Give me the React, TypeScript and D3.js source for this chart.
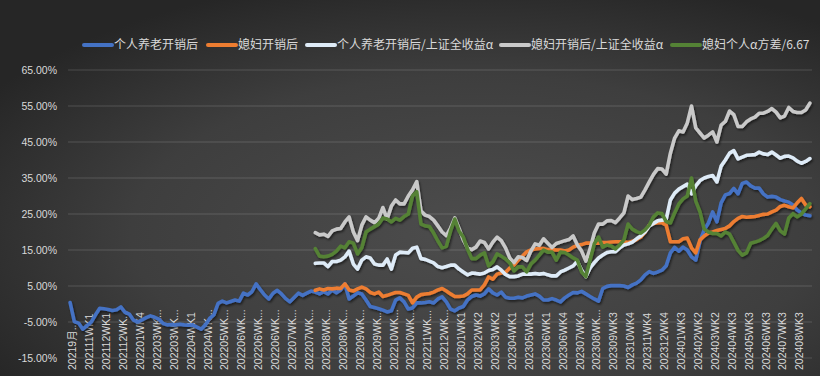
import React from 'react';
import * as d3 from 'd3';

// ---- data ----
const NUM_WEEKS = 176;
const LABEL_STEP = 4;
const SERIES_START = 58; // index where the four later series begin

const tickLabels = [
  '20219月...', '202111WK1', '202112WK1', '202112WK...', '202201WK4', '202203WK...',
  '202203WK...', '202204WK1', '202204WK...', '202205WK...', '202206WK...', '202206WK...',
  '202206WK...', '202207WK...', '202207WK...', '202208WK...', '202208WK...', '202209WK...',
  '202209WK...', '202210WK...', '202210WK...', '202211WK...', '202212WK...', '202301WK1',
  '202302WK2', '202303WK2', '202304WK1', '202305WK1', '202306WK1', '202306WK4',
  '202307WK4', '202308WK...', '202309WK3', '202310WK4', '202311WK4', '202312WK4',
  '202401WK3', '202402WK2', '202403WK2', '202404WK3', '202405WK3', '202406WK3',
  '202407WK3', '202408WK3',
];

const yTicks = [-15, -5, 5, 15, 25, 35, 45, 55, 65];

const pensionNet = [
  0.4, -4.9, -5.3, -7.0, -6.0, -5.0, -3.0, -1.2, -1.3, -1.5,
  -1.8, -1.6, -0.8, -2.3, -2.8, -4.5, -5.0, -4.4, -3.8, -3.3,
  -3.7, -4.2, -5.4, -5.8, -5.7, -5.8, -5.6, -5.8, -5.9, -5.8,
  -6.4, -7.0, -5.8, -4.0, -3.0, 0.2, 0.8, 0.3, 0.7, 1.1,
  0.8, 3.0, 2.5, 3.4, 5.6, 4.0, 2.5, 1.4, 3.0, 3.8,
  2.8, 1.5, 0.6, 1.8, 3.0, 2.4, 3.0, 3.6, 3.3, 2.8,
  3.4, 2.8, 3.9, 3.1, 3.9, 5.6, 1.4, 2.2, 3.1, 2.8,
  1.1, -0.7, -1.0, -1.3, -1.7, -2.2, -1.9, 1.1, 1.7, 0.6,
  -1.4, -1.1, 0.3, 0.3, 0.4, 0.6, 0.3, 1.4, 2.0, 0.6,
  -1.4, -1.9, -1.1, -0.7, 1.1, 2.1, 2.5, 2.2, 2.8, 4.2,
  3.1, 2.5, 3.3, 1.9, 1.6, 1.6, 1.9, 1.7, 2.2, 2.5,
  2.8, 2.2, 1.1, 1.1, 1.5, 1.1, 0.6, 1.7, 2.5, 3.2,
  3.1, 3.5, 2.8, 2.1, 1.4, 0.8, 4.3, 4.9, 5.1, 5.1,
  5.1, 5.0, 4.6, 5.3, 5.8, 6.7, 8.1, 9.0, 8.5, 8.9,
  9.4, 10.6, 14.2, 15.7, 14.7, 15.8, 15.0, 13.1, 12.2, 17.5,
  20.6, 22.5, 25.6, 22.8, 28.1, 30.3, 30.7, 32.1, 30.6, 33.5,
  33.9, 32.8, 32.2, 32.2, 30.6, 29.7, 29.9, 29.7, 29.0, 28.6,
  28.3, 27.5, 26.1, 25.3, 24.7, 24.5,
];

const wifeNet = [
  3.8, 4.2,
  3.9, 4.3, 4.2, 4.4, 4.3, 5.6, 3.9, 3.6, 4.2, 4.7,
  4.2, 3.2, 2.8, 3.3, 2.1, 2.4, 2.8, 3.2, 3.2, 2.8,
  2.4, 0.3, 1.9, 2.6, 2.8, 2.9, 3.3, 3.9, 4.3, 3.6,
  2.8, 2.1, 2.1, 2.2, 2.8, 3.9, 3.9, 3.9, 5.3, 7.5,
  6.9, 8.3, 8.6, 8.8, 10.0, 10.8, 12.2, 13.3, 14.5, 15.0,
  15.3, 15.4, 15.4, 15.1, 15.1, 15.0, 15.0, 14.7, 15.0, 15.8,
  16.3, 16.5, 16.9, 16.9, 16.9, 16.9, 17.1, 17.1, 17.2, 17.3,
  17.3, 17.3, 17.1, 17.4, 17.9, 18.6, 20.0, 21.9, 22.4, 22.6,
  22.6, 21.9, 17.3, 17.3, 17.3, 18.1, 18.3, 15.6, 14.2, 17.8,
  18.9, 19.7, 20.0, 20.4, 20.7, 21.0, 21.7, 22.9, 23.8, 24.3,
  24.1, 24.2, 24.3, 24.6, 24.9, 25.0, 25.6, 26.1, 27.1, 27.4,
  27.0, 26.7, 28.1, 29.3, 27.5, 27.0,
];

const pensionAlpha = [
  11.3, 11.4,
  11.4, 10.4, 11.8, 11.8, 12.2, 13.1, 14.7, 11.1, 9.7, 12.2,
  13.1, 12.8, 11.1, 10.8, 10.8, 12.5, 9.7, 13.6, 14.4, 14.3,
  14.2, 15.5, 15.8, 12.6, 12.4, 11.9, 11.4, 10.4, 10.1, 10.4,
  10.8, 10.8, 9.7, 8.9, 8.1, 8.6, 8.5, 8.3, 8.6, 9.3,
  9.6, 10.3, 9.4, 8.2, 7.6, 7.6, 7.8, 8.3, 8.3, 8.3,
  8.5, 8.3, 8.5, 8.1, 7.8, 7.8, 8.9, 9.4, 10.0, 10.6,
  11.9, 9.4, 7.6, 10.0, 11.5, 12.8, 13.6, 14.3, 14.5, 14.5,
  15.6, 16.4, 16.7, 17.2, 18.1, 18.9, 20.0, 21.7, 22.4, 23.1,
  23.3, 23.5, 28.9, 30.8, 31.9, 32.6, 33.3, 30.6, 32.8, 34.3,
  35.0, 35.4, 35.7, 33.9, 38.3, 40.0, 41.9, 42.6, 40.3, 40.8,
  41.3, 41.4, 41.5, 42.2, 41.7, 41.5, 42.2, 41.4, 40.5, 41.0,
  41.1, 40.6, 39.7, 39.1, 39.6, 40.4,
];

const wifeAlpha = [
  19.8, 19.2,
  19.4, 18.8, 20.3, 20.8, 21.0, 22.8, 24.2, 20.0, 17.6, 21.9,
  24.2, 23.3, 22.6, 23.8, 26.8, 23.6, 27.2, 28.9, 27.8, 27.8,
  30.0, 31.7, 34.0, 25.8, 24.7, 24.3, 23.3, 21.7, 20.0, 19.0,
  21.1, 23.9, 21.0, 17.8, 15.6, 15.1, 15.8, 17.5, 17.1, 15.3,
  17.2, 18.6, 17.6, 15.6, 12.8, 11.5, 13.1, 12.9, 12.1, 14.7,
  16.7, 16.3, 18.1, 16.9, 15.7, 16.8, 17.2, 17.6, 17.9, 18.9,
  16.4, 14.7, 11.9, 15.3, 19.7, 22.2, 22.2, 23.1, 23.2, 22.6,
  23.9, 25.3, 30.0, 29.0, 29.3, 29.7, 31.7, 33.9, 36.0, 37.6,
  37.5, 36.1, 41.9, 46.1, 48.1, 47.8, 50.3, 55.0, 48.9, 47.5,
  46.1, 46.9, 47.8, 45.0, 49.7, 50.7, 53.6, 52.6, 49.3, 49.3,
  50.6, 51.4, 51.9, 53.0, 53.0, 53.5, 54.3, 53.3, 51.7, 52.2,
  54.6, 53.5, 53.2, 53.2, 53.9, 55.8,
];

const wifeAlphaVar = [
  15.4, 13.3,
  13.1, 13.3, 13.8, 14.7, 16.1, 15.6, 17.3, 16.9, 13.9, 15.6,
  20.0, 20.8, 21.5, 22.2, 23.9, 23.6, 22.8, 23.8, 23.3, 24.3,
  25.0, 30.0, 31.2, 22.2, 21.7, 21.5, 19.7, 17.5, 15.6, 16.0,
  20.3, 23.6, 20.3, 18.6, 15.3, 12.6, 12.6, 13.6, 14.2, 10.6,
  11.7, 13.9, 13.3, 12.5, 11.4, 9.2, 10.3, 10.3, 8.9, 11.1,
  12.2, 13.6, 15.0, 14.4, 14.4, 12.2, 14.4, 14.3, 13.6, 12.8,
  12.2, 8.9, 7.6, 12.2, 16.7, 18.6, 15.8, 16.4, 16.1, 15.3,
  16.4, 17.8, 22.2, 20.8, 20.1, 19.7, 20.6, 21.9, 24.2, 25.3,
  25.1, 22.9, 22.5, 25.3, 27.8, 29.2, 30.0, 35.0, 28.6, 25.6,
  20.8, 20.0, 19.6, 19.6, 18.9, 20.0, 19.4, 17.2, 14.9, 13.6,
  14.2, 16.9, 17.2, 17.6, 18.2, 19.0, 20.8, 22.4, 20.3, 19.4,
  23.9, 25.1, 24.2, 25.0, 26.4, 27.9,
];

const seriesNames = [
  '个人养老开销后',
  '媳妇开销后',
  '个人养老开销后/上证全收益α',
  '媳妇开销后/上证全收益α',
  '媳妇个人α方差/6.67',
];
const seriesValues = [pensionNet, wifeNet, pensionAlpha, wifeAlpha, wifeAlphaVar];
const seriesStarts = [0, SERIES_START, SERIES_START, SERIES_START, SERIES_START];
const seriesColors = ['#4472C4', '#ED7D31', '#DEEBF7', '#C9C9C9', '#548235'];

// ---- layout ----
const W = 820;
const H = 376;
const plotLeft = 68;
const plotRight = 812;
const yTop = 70;
const yBottom = 358;
const legendX = [84, 208, 307, 501, 672];
const legendY = 45;
const fontLatin = '"Liberation Sans", Arial, "Noto Sans CJK SC", sans-serif';
const fontCJK = '"Noto Sans CJK SC", "Liberation Sans", sans-serif';

export default function App() {
  const x = d3
    .scaleBand<number>()
    .domain(d3.range(NUM_WEEKS))
    .range([plotLeft, plotRight]);
  const cx = (i: number) => (x(i) as number) + x.bandwidth() / 2;
  const y = d3.scaleLinear().domain([-15, 65]).range([yBottom, yTop]);

  const line = d3
    .line<[number, number]>()
    .x((d) => cx(d[0]))
    .y((d) => y(d[1]))
    .curve(d3.curveLinear);

  const paths = seriesValues.map((vals, s) =>
    line(vals.map((v, k) => [seriesStarts[s] + k, v] as [number, number]))
  );

  return (
    <svg
      width={W}
      height={H}
      style={{ position: 'absolute', left: 0, top: 0, display: 'block' }}
    >
      <defs>
        <radialGradient id="bg" cx="58%" cy="62%" r="70%">
          <stop offset="0%" stopColor="#4d4d4d" />
          <stop offset="60%" stopColor="#3e3e3e" />
          <stop offset="100%" stopColor="#262626" />
        </radialGradient>
        <filter id="shadow" x="-5%" y="-5%" width="110%" height="120%">
          <feDropShadow dx="1.2" dy="1.8" stdDeviation="1.2" floodColor="#000" floodOpacity="0.55" />
        </filter>
      </defs>
      <rect x={0} y={0} width={W} height={H} fill="url(#bg)" />

      {/* gridlines */}
      {yTicks.map((t) => (
        <line
          key={t}
          x1={plotLeft}
          x2={plotRight}
          y1={y(t)}
          y2={y(t)}
          stroke="#ffffff"
          strokeOpacity={0.16}
          strokeWidth={1}
        />
      ))}

      {/* y labels */}
      {yTicks.map((t) => (
        <text
          key={'l' + t}
          x={57}
          y={y(t)}
          dy="0.35em"
          textAnchor="end"
          fill="#d9d9d9"
          fontSize={10.5}
          fontFamily={fontLatin}
        >
          {t.toFixed(2) + '%'}
        </text>
      ))}

      {/* x labels */}
      {tickLabels.map((lab, k) => {
        const px = cx(k * LABEL_STEP) + 2.5;
        return (
          <text
            key={'x' + k}
            transform={`translate(${px},370) rotate(-90)`}
            dy="0.35em"
            textAnchor="start"
            fill="#d9d9d9"
            fontSize={10.5}
            fontFamily={fontLatin}
          >
            {lab}
          </text>
        );
      })}

      {/* series */}
      <g filter="url(#shadow)">
        {paths.map((p, s) => (
          <path
            key={'p' + s}
            d={p || ''}
            fill="none"
            stroke={seriesColors[s]}
            strokeWidth={3.6}
            strokeLinejoin="round"
            strokeLinecap="round"
          />
        ))}
      </g>

      {/* legend */}
      {seriesNames.map((name, s) => (
        <g key={'lg' + s}>
          <line
            x1={legendX[s]}
            x2={legendX[s] + 28}
            y1={legendY}
            y2={legendY}
            stroke={seriesColors[s]}
            strokeWidth={4}
            strokeLinecap="round"
          />
          <text
            x={legendX[s] + 30}
            y={legendY}
            dy="0.36em"
            fill="#d9d9d9"
            fontSize={12}
            fontFamily={fontCJK}
          >
            {name}
          </text>
        </g>
      ))}
    </svg>
  );
}
